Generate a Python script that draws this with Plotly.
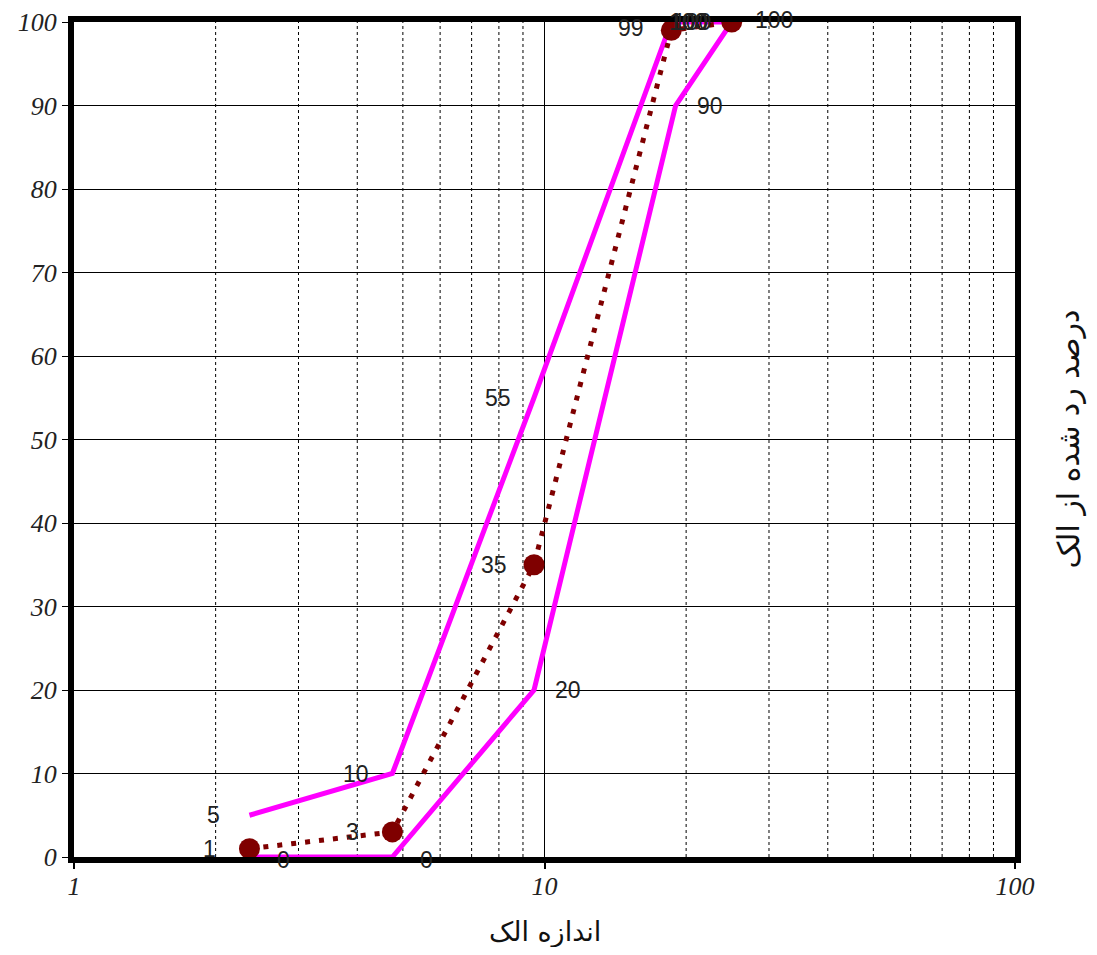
import math
import plotly.graph_objects as go

# Data
data_x = [2.36, 4.75, 9.5, 18.6, 25]
data_y = [1, 3, 35, 99, 100]
upper_x = [2.36, 4.75, 9.5, 18.6, 25]
upper_y = [5, 10, 55, 100, 100]
lower_x = [2.36, 4.75, 9.5, 19, 25]
lower_y = [0, 0, 20, 90, 100]

y_ticks = [0, 10, 20, 30, 40, 50, 60, 70, 80, 90, 100]
x_ticks = [1, 10, 100]
minor_grid = [2, 3, 4, 5, 6, 7, 8, 9, 20, 30, 40, 50, 60, 70, 80, 90]

x_title = "اندازه الک"
y_title = "درصد رد شده از الک"

fig = go.Figure()

# minor dotted vertical grid
for v in minor_grid:
    fig.add_shape(type="line", xref="x", yref="paper", x0=v, x1=v, y0=0, y1=1,
                  line=dict(color="black", width=1, dash="dot"), layer="below")

fig.add_trace(go.Scatter(x=upper_x, y=upper_y, mode="lines",
                         line=dict(color="#FF00FF", width=5), showlegend=False))
fig.add_trace(go.Scatter(x=lower_x, y=lower_y, mode="lines",
                         line=dict(color="#FF00FF", width=5), showlegend=False))
fig.add_trace(go.Scatter(x=data_x, y=data_y, mode="lines+markers",
                         line=dict(color="#7F0000", width=5, dash="5px,9px"),
                         marker=dict(color="#7F0000", size=21), showlegend=False))

lab_font = dict(family="Liberation Sans, Arial", size=23, color="#222222")


def label(x, y, dx, dy=0):
    fig.add_annotation(x=math.log10(x), y=y, xref="x", yref="y", text=str(y),
                       showarrow=False, xshift=dx, yshift=dy, font=lab_font)


for x, y in zip(upper_x[:3], upper_y[:3]):
    label(x, y, -36)
label(upper_x[3], upper_y[3], 18)
label(upper_x[4], upper_y[4], -44)
for x, y in zip(lower_x, lower_y):
    label(x, y, 34 if y < 100 else 42, -3 if y == 0 else 2 if y == 100 else 0)
for x, y in zip(data_x, data_y):
    label(x, y, -40 if y < 100 else -40, 2 if y == 99 else 0)

fig.add_annotation(x=0.5, y=0, xref="paper", yref="paper", yshift=-75, yanchor="middle",
                   text=x_title, showarrow=False,
                   font=dict(family="DejaVu Sans", size=27, color="#111"))
fig.add_annotation(x=1, y=0.5, xref="paper", yref="paper", xshift=53, xanchor="center",
                   text=y_title, textangle=-90, showarrow=False,
                   font=dict(family="DejaVu Sans", size=30, color="#111"))

tick_font = dict(family="Liberation Serif, Times New Roman", size=26, color="#222",
                 style="italic")
fig.update_xaxes(type="log", range=[0, 2], tickvals=x_ticks, ticktext=[str(t) for t in x_ticks],
                 showline=True, linecolor="black", linewidth=6, mirror=True,
                 ticks="outside", ticklen=6, tickcolor="black", tickwidth=2,
                 showgrid=True, gridcolor="black", gridwidth=1, automargin=False,
                 tickfont=tick_font, zeroline=False, ticklabelstandoff=-5)
fig.update_yaxes(range=[0, 100], tickvals=y_ticks,
                 showline=True, linecolor="black", linewidth=6, mirror=True,
                 ticks="outside", ticklen=6, tickcolor="black", tickwidth=1,
                 showgrid=True, gridcolor="black", gridwidth=1, automargin=False,
                 tickfont=tick_font, zeroline=False, ticklabelstandoff=0)

fig.update_layout(width=1081, height=939, plot_bgcolor="white", paper_bgcolor="white",
                  margin=dict(l=66, r=74, t=14, b=90))

fig.write_html("out.html")
